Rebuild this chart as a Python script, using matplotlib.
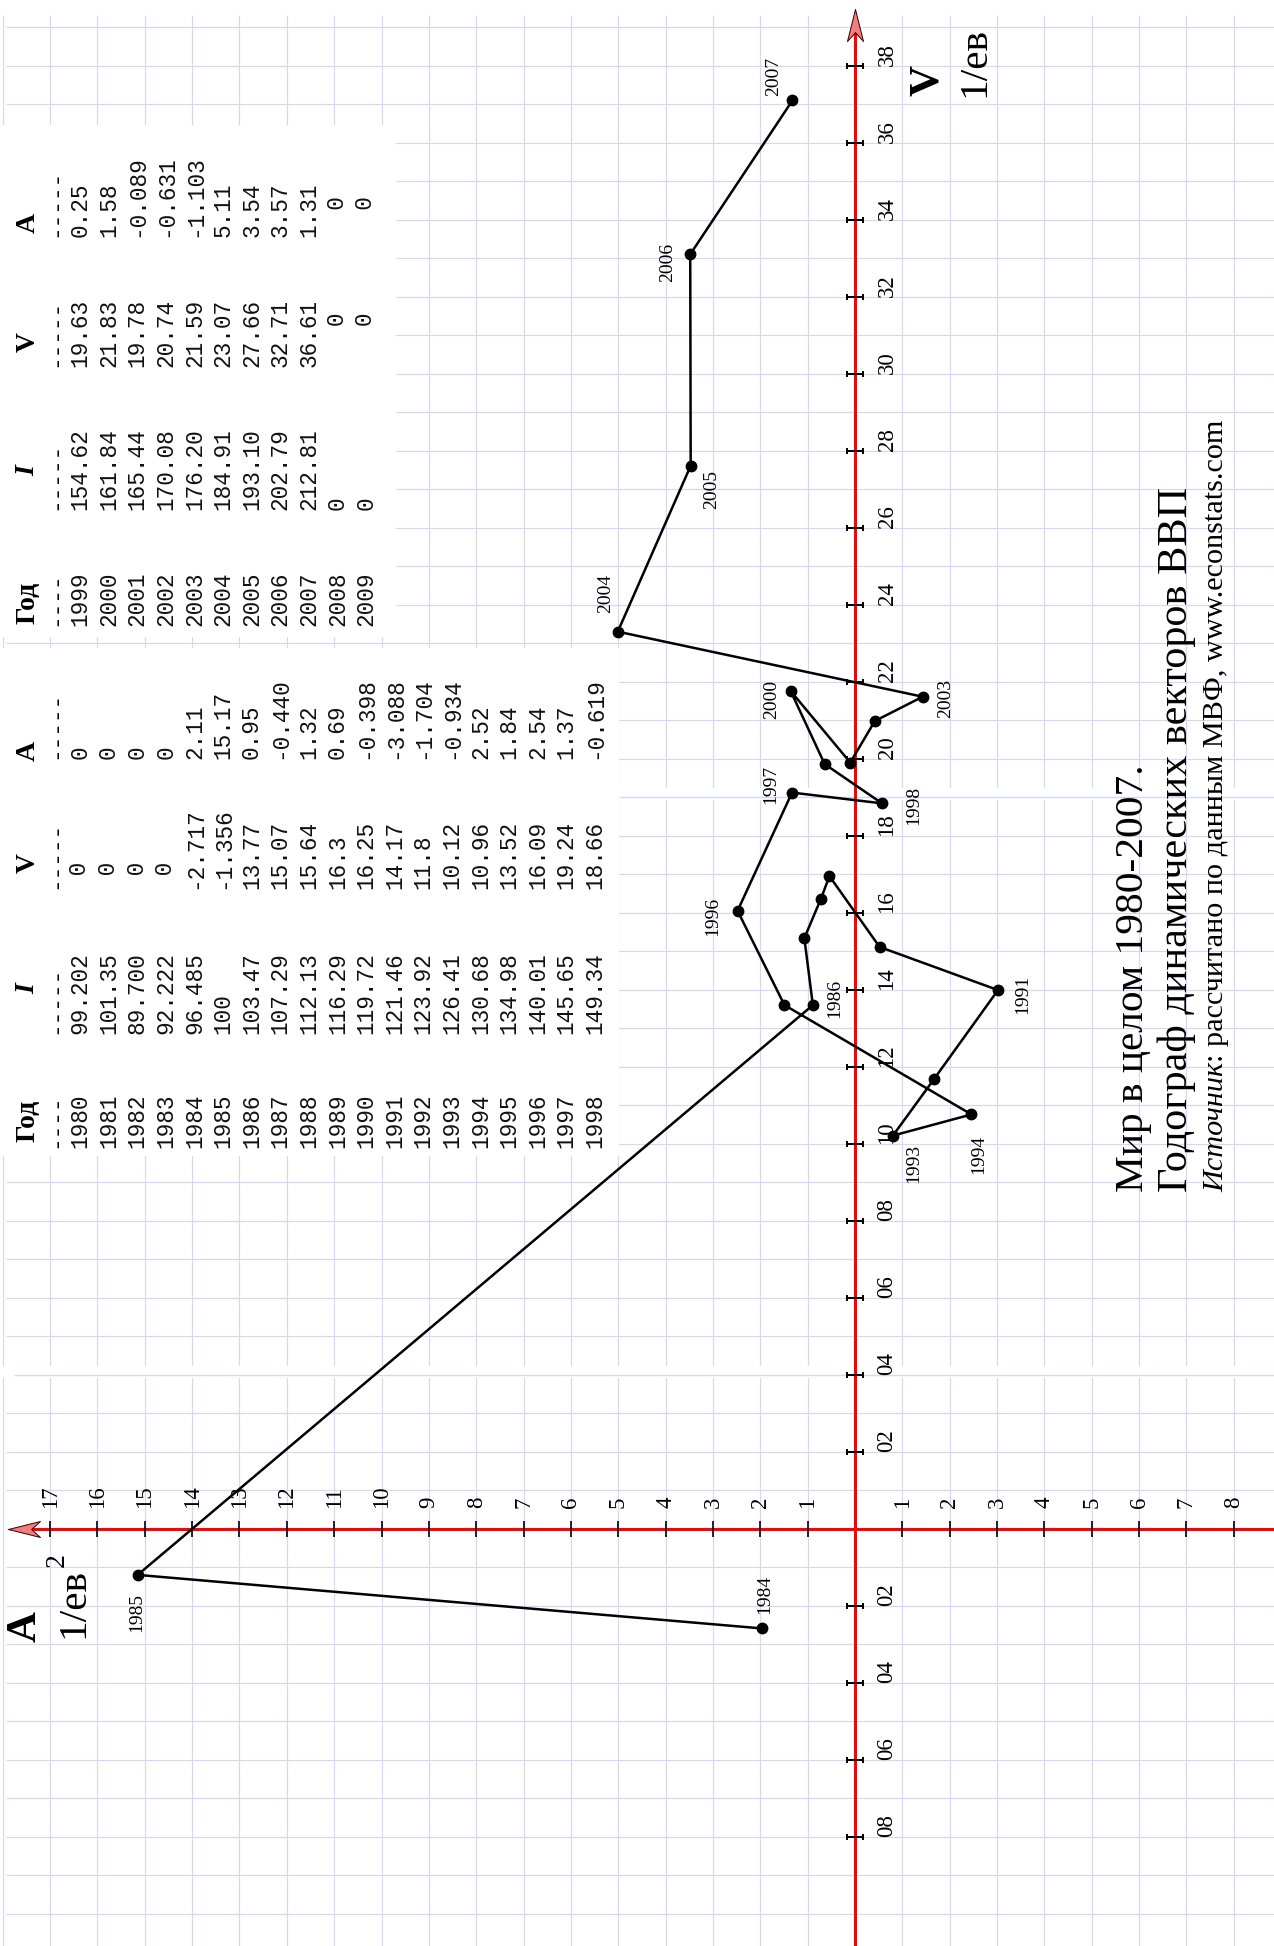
import numpy as np
import matplotlib.pyplot as plt
import matplotlib.transforms as mtransforms
from matplotlib.path import Path
from matplotlib.patches import Rectangle

W, H = 1274, 1946

# hodograph points: A (acceleration) and V (velocity)
years = list(range(1984, 2008))
acc = [1.97, 15.15, 0.89, 1.07, 0.72, 0.54, -0.52, -3.02, -1.67, -0.80, -2.46, 1.49,
       2.48, 1.33, -0.57, 0.64, 1.36, 0.10, -0.42, -1.43, 5.01, 3.47, 3.48, 1.32]
vel = [-2.59, -1.20, 13.60, 15.34, 16.36, 16.95, 15.11, 13.99, 11.68, 10.21, 10.76, 13.60,
       16.05, 19.12, 18.84, 19.86, 21.76, 19.90, 20.98, 21.61, 23.30, 27.61, 33.10, 37.10]
labelled = [1984, 1985, 1986, 1991, 1993, 1994, 1996, 1997, 1998, 2000, 2003,
            2004, 2005, 2006, 2007]

# axis ticks
v_ticks = list(range(2, 39, 2)) + [-2, -4, -6, -8]
a_ticks = list(range(1, 18)) + list(range(-1, -9, -1))

# tables as printed on the chart
tab1_year = [str(y) for y in range(1980, 1999)]
tab1_I = ["99.202", "101.35", "89.700", "92.222", "96.485", "100", "103.47", "107.29",
          "112.13", "116.29", "119.72", "121.46", "123.92", "126.41", "130.68", "134.98",
          "140.01", "145.65", "149.34"]
tab1_V = [" 0", " 0", " 0", " 0", "-2.717", "-1.356", "13.77", "15.07", "15.64", "16.3",
          "16.25", "14.17", "11.8", "10.12", "10.96", "13.52", "16.09", "19.24", "18.66"]
tab1_A = ["0", "0", "0", "0", "2.11", "15.17", "0.95", "-0.440", "1.32", "0.69", "-0.398",
          "-3.088", "-1.704", "-0.934", "2.52", "1.84", "2.54", "1.37", "-0.619"]

tab2_year = [str(y) for y in range(1999, 2010)]
tab2_I = ["154.62", "161.84", "165.44", "170.08", "176.20", "184.91", "193.10", "202.79",
          "212.81", "0", "0"]
tab2_V = ["19.63", "21.83", "19.78", "20.74", "21.59", "23.07", "27.66", "32.71", "36.61",
          "   0", "   0"]
tab2_A = ["0.25", "1.58", "-0.089", "-0.631", "-1.103", "5.11", "3.54", "3.57", "1.31",
          "  0", "  0"]

# label offsets in pixels (right, down) from each labelled point
offsets = {1984: (3, -34), 1985: (-1, 38), 1986: (22, -7), 1991: (25, 4), 1993: (21, 28),
           1994: (7, 40), 1996: (-25, 6), 1997: (-21, -8), 1998: (32, 2), 2000: (-19, 8),
           2003: (23, 2), 2004: (-12, -38), 2005: (21, 24), 2006: (-23, 8), 2007: (-19, -24)}

serif = 'Liberation Serif'
mono = 'Liberation Mono'
grid_c = '#d6d6f6'

fig = plt.figure(figsize=(W / 100, H / 100), dpi=100)
ax = fig.add_axes([0, 0, 1, 1])
ax.set_axis_off()
r = fig.canvas.get_renderer()

# the whole picture is turned 90 degrees: V goes up, A goes left
x0, y0 = 855.0, 1528.7
pa, pv = 47.35, 38.5
ax.set_xlim(x0 / pa, (x0 - W) / pa)
ax.set_ylim((y0 - H) / pv, y0 / pv)
a_lo, a_hi = ax.get_xlim()[1], ax.get_xlim()[0]
v_lo, v_hi = ax.get_ylim()

img = mtransforms.Affine2D().scale(1.0 / W, -1.0 / H).translate(0, 1) + fig.transFigure


def fit(texts, length):
    for _ in range(3):
        h = sum(t.get_window_extent(r).height for t in texts)
        for t in texts:
            t.set_fontsize(t.get_fontsize() * length / h)


# graph paper
ax.vlines(np.arange(-8, 19), v_lo, (y0 - 15) / pv, colors=grid_c, lw=0.85, zorder=0)
ax.hlines(np.arange(-10, 40), a_lo, (x0 - 6) / pa, colors=grid_c, lw=0.85, zorder=0)

# white patches under the tables and thin seams between sheets
for (x, y, w, h) in [(0, 125, 396, 512), (0, 648, 619, 508),
                     (0, 1366, W, 12), (619, 788, W - 619, 12)]:
    ax.add_patch(Rectangle((x, y), w, h, transform=img, fc='white', ec='none', zorder=1))
ax.hlines([4], a_lo, (x0 - 14) / pa, colors=grid_c, lw=1.0, zorder=1.5)
ax.hlines([19], a_lo, (x0 - 619) / pa, colors=grid_c, lw=1.0, zorder=1.5)

# red axes with arrows
v_tip = (y0 - 9) / pv
a_tip = (x0 - 8) / pa
ax.plot([0, 0], [v_lo, v_tip - 0.5], color='red', lw=2.2, zorder=2)
ax.plot([a_lo, a_tip - 0.5], [0, 0], color='red', lw=2.2, zorder=2)

up = Path([(0, 1), (0.5, -1), (0, -0.45), (-0.5, -1), (0, 1)],
          [Path.MOVETO, Path.LINETO, Path.LINETO, Path.LINETO, Path.CLOSEPOLY])
left = Path([(-1, 0), (1, 0.5), (0.45, 0), (1, -0.5), (-1, 0)],
            [Path.MOVETO, Path.LINETO, Path.LINETO, Path.LINETO, Path.CLOSEPOLY])
ax.plot([0], [v_tip - 16 / pv], marker=up, ms=23, mfc='#f47c7c', mec='#300000', mew=0.7,
        zorder=5)
ax.plot([a_tip - 16 / pa], [0], marker=left, ms=23, mfc='#f47c7c', mec='#300000', mew=0.7,
        zorder=5)

# ticks
ibar = Path([(-1, 0), (1, 0), (-1, -0.45), (-1, 0.45), (1, -0.45), (1, 0.45)],
            [Path.MOVETO, Path.LINETO, Path.MOVETO, Path.LINETO, Path.MOVETO, Path.LINETO])
ax.plot(np.zeros(len(v_ticks)), v_ticks, ls='none', marker=ibar, ms=11, mec='k', mew=1.4,
        zorder=3)
ax.plot(a_ticks, np.zeros(len(a_ticks)), ls='none', marker='|', ms=11.5, mec='k', mew=1.2,
        zorder=3)

for v in v_ticks:
    ax.text(-32 / pa, v, f'{abs(v):02d}', rotation=90, ha='center', va='bottom',
            fontsize=16.5, family=serif, zorder=3)
for a in a_ticks:
    ax.text(a, 21 / pv, str(abs(a)), rotation=90, ha='center', va='bottom',
            fontsize=16.5, family=serif, zorder=3)

# hodograph
ax.plot(acc, vel, color='black', lw=1.8, zorder=4)
ax.plot(acc, vel, ls='none', marker='o', ms=7.5, color='black', zorder=4)
for y in labelled:
    i = years.index(y)
    dx, dy = offsets[y]
    ax.annotate(str(y), (acc[i], vel[i]), xytext=(dx, -dy), textcoords='offset pixels',
                rotation=90, ha='center', va='center', fontsize=14, family=serif, zorder=4)

# axis names
ax.text(928, 80, 'V', transform=img, rotation=90, ha='center', va='center',
        fontsize=31, fontweight='bold', family=serif)
u1 = ax.text(975, 97, '1/ев', transform=img, rotation=90, ha='center', va='bottom',
             fontsize=26, family=serif)
fit([u1], 70)
ax.text(26, 1627, 'A', transform=img, rotation=90, ha='center', va='center',
        fontsize=31, fontweight='bold', family=serif)
u2 = ax.text(74, 1638, '1/ев', transform=img, rotation=90, ha='center', va='bottom',
             fontsize=26, family=serif)
fit([u2], 70)
ax.text(57, 1560, '2', transform=img, rotation=90, ha='center', va='center',
        fontsize=20, family=serif)


# tables
def draw_table(first_x, bottoms, cols, heads):
    for lab, yc, style in heads:
        ax.text(28, yc, lab, transform=img, rotation=90, ha='center', va='center',
                fontsize=20, fontweight='bold', fontstyle=style, family=serif, zorder=3)
    for yb, dash in zip(bottoms, ['----', '-----', '-----', '-----']):
        ax.text(55, yb, dash, transform=img, rotation=90, ha='center', va='bottom',
                fontsize=16.4, family=mono, zorder=3)
    for col, yb in zip(cols, bottoms):
        for k, s in enumerate(col):
            ax.text(first_x + 28.6 * k, yb, s, transform=img, rotation=90, ha='center',
                    va='bottom', fontsize=16.4, family=mono, color='#111111', zorder=3)


draw_table(80, (1148, 1034, 889, 759), (tab1_year, tab1_I, tab1_V, tab1_A),
           [('Год', 1121, 'normal'), ('I', 989, 'italic'), ('V', 863, 'normal'),
            ('A', 751, 'normal')])
draw_table(80, (626, 510, 367, 237), (tab2_year, tab2_I, tab2_V, tab2_A),
           [('Год', 603, 'normal'), ('I', 471, 'italic'), ('V', 342, 'normal'),
            ('A', 223, 'normal')])

# title block
t1 = ax.text(1134, 1192, 'Мир в целом 1980-2007.', transform=img, rotation=90,
             ha='center', va='bottom', fontsize=28, family=serif)
fit([t1], 428)
t2 = ax.text(1177, 1192, 'Годограф динамических векторов ВВП', transform=img, rotation=90,
             ha='center', va='bottom', fontsize=28, family=serif)
fit([t2], 705)
t3a = ax.text(1216, 1192, 'Источник', transform=img, rotation=90, ha='center',
              va='bottom', fontsize=18, fontstyle='italic', family=serif)
t3b = ax.text(1216, 1000, ': рассчитано по данным МВФ, www.econstats.com', transform=img,
              rotation=90, ha='center', va='bottom', fontsize=18, family=serif)
fit([t3a, t3b], 774)
t3b.set_y(1192 - t3a.get_window_extent(r).height)

fig.savefig('out.png', dpi=100)
